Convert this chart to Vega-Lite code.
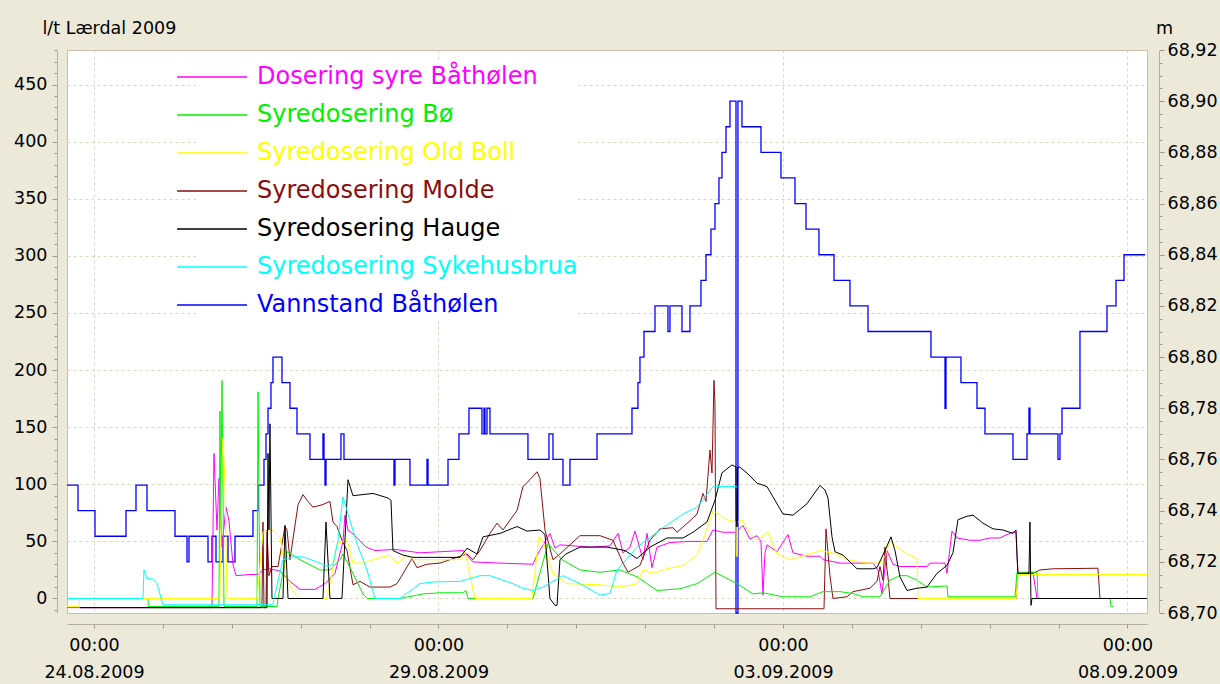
{
"$schema": "https://vega.github.io/schema/vega-lite/v6.json",
"width": 1080, "height": 563,
"autosize": {"type": "none"},
"padding": {"left": 67, "top": 50, "right": 73, "bottom": 71},
"background": "#ECE9D8",
"config": {
  "view": {"fill": "#FFFFFF", "stroke": "#C4C0AC"},
  "axis": {"labelFont": "DejaVu Sans", "labelFontSize": 17.5, "labelColor": "#000000", "titleFont": "DejaVu Sans", "titleFontSize": 17.5, "titleFontWeight": "normal", "titleColor": "#000000", "domainColor": "#B4B0A0", "tickColor": "#9C9888", "gridColor": "#DCD8C2", "gridDash": [3, 3]}
},
"datasets": {
"level": [
{"s":"Vannstand Båthølen","t":"2009-08-23T14:36","m":68.75},
{"s":"Vannstand Båthølen","t":"2009-08-23T18:26","m":68.74},
{"s":"Vannstand Båthølen","t":"2009-08-24T00:21","m":68.73},
{"s":"Vannstand Båthølen","t":"2009-08-24T11:09","m":68.74},
{"s":"Vannstand Båthølen","t":"2009-08-24T14:38","m":68.75},
{"s":"Vannstand Båthølen","t":"2009-08-24T18:28","m":68.74},
{"s":"Vannstand Båthølen","t":"2009-08-25T04:13","m":68.73},
{"s":"Vannstand Båthølen","t":"2009-08-25T08:24","m":68.72},
{"s":"Vannstand Båthølen","t":"2009-08-25T09:05","m":68.73},
{"s":"Vannstand Båthølen","t":"2009-08-25T15:43","m":68.72},
{"s":"Vannstand Båthølen","t":"2009-08-25T17:06","m":68.73},
{"s":"Vannstand Båthølen","t":"2009-08-25T18:30","m":68.72},
{"s":"Vannstand Båthølen","t":"2009-08-25T20:56","m":68.73},
{"s":"Vannstand Båthølen","t":"2009-08-25T22:41","m":68.72},
{"s":"Vannstand Båthølen","t":"2009-08-26T01:07","m":68.73},
{"s":"Vannstand Båthølen","t":"2009-08-26T07:23","m":68.74},
{"s":"Vannstand Båthølen","t":"2009-08-26T09:08","m":68.75},
{"s":"Vannstand Båthølen","t":"2009-08-26T11:13","m":68.76},
{"s":"Vannstand Båthølen","t":"2009-08-26T11:55","m":68.77},
{"s":"Vannstand Båthølen","t":"2009-08-26T12:37","m":68.78},
{"s":"Vannstand Båthølen","t":"2009-08-26T13:39","m":68.79},
{"s":"Vannstand Båthølen","t":"2009-08-26T14:21","m":68.80},
{"s":"Vannstand Båthølen","t":"2009-08-26T17:29","m":68.79},
{"s":"Vannstand Båthølen","t":"2009-08-26T20:16","m":68.78},
{"s":"Vannstand Båthølen","t":"2009-08-26T22:43","m":68.77},
{"s":"Vannstand Båthølen","t":"2009-08-27T03:14","m":68.76},
{"s":"Vannstand Båthølen","t":"2009-08-27T07:46","m":68.77},
{"s":"Vannstand Båthølen","t":"2009-08-27T08:07","m":68.76},
{"s":"Vannstand Båthølen","t":"2009-08-27T08:28","m":68.75},
{"s":"Vannstand Båthølen","t":"2009-08-27T08:49","m":68.76},
{"s":"Vannstand Båthølen","t":"2009-08-27T14:02","m":68.77},
{"s":"Vannstand Båthølen","t":"2009-08-27T15:05","m":68.76},
{"s":"Vannstand Båthølen","t":"2009-08-28T08:30","m":68.75},
{"s":"Vannstand Båthølen","t":"2009-08-28T08:51","m":68.76},
{"s":"Vannstand Båthølen","t":"2009-08-28T14:04","m":68.75},
{"s":"Vannstand Båthølen","t":"2009-08-28T20:00","m":68.76},
{"s":"Vannstand Båthølen","t":"2009-08-28T20:21","m":68.75},
{"s":"Vannstand Båthølen","t":"2009-08-29T03:19","m":68.76},
{"s":"Vannstand Båthølen","t":"2009-08-29T07:08","m":68.77},
{"s":"Vannstand Båthølen","t":"2009-08-29T10:37","m":68.78},
{"s":"Vannstand Båthølen","t":"2009-08-29T15:09","m":68.77},
{"s":"Vannstand Båthølen","t":"2009-08-29T15:51","m":68.78},
{"s":"Vannstand Båthølen","t":"2009-08-29T16:12","m":68.77},
{"s":"Vannstand Båthølen","t":"2009-08-29T16:54","m":68.78},
{"s":"Vannstand Båthølen","t":"2009-08-29T17:56","m":68.77},
{"s":"Vannstand Båthølen","t":"2009-08-30T07:10","m":68.76},
{"s":"Vannstand Båthølen","t":"2009-08-30T14:29","m":68.77},
{"s":"Vannstand Båthølen","t":"2009-08-30T15:53","m":68.76},
{"s":"Vannstand Båthølen","t":"2009-08-30T19:22","m":68.75},
{"s":"Vannstand Båthølen","t":"2009-08-30T21:48","m":68.76},
{"s":"Vannstand Båthølen","t":"2009-08-31T07:13","m":68.77},
{"s":"Vannstand Båthølen","t":"2009-08-31T19:24","m":68.78},
{"s":"Vannstand Båthølen","t":"2009-08-31T21:29","m":68.79},
{"s":"Vannstand Båthølen","t":"2009-08-31T22:11","m":68.80},
{"s":"Vannstand Båthølen","t":"2009-08-31T23:35","m":68.81},
{"s":"Vannstand Båthølen","t":"2009-09-01T03:25","m":68.82},
{"s":"Vannstand Båthølen","t":"2009-09-01T07:56","m":68.81},
{"s":"Vannstand Båthølen","t":"2009-09-01T08:38","m":68.82},
{"s":"Vannstand Båthølen","t":"2009-09-01T12:49","m":68.81},
{"s":"Vannstand Båthølen","t":"2009-09-01T15:36","m":68.82},
{"s":"Vannstand Båthølen","t":"2009-09-01T19:26","m":68.83},
{"s":"Vannstand Båthølen","t":"2009-09-01T21:11","m":68.84},
{"s":"Vannstand Båthølen","t":"2009-09-01T22:55","m":68.85},
{"s":"Vannstand Båthølen","t":"2009-09-02T00:19","m":68.86},
{"s":"Vannstand Båthølen","t":"2009-09-02T01:42","m":68.87},
{"s":"Vannstand Båthølen","t":"2009-09-02T02:45","m":68.88},
{"s":"Vannstand Båthølen","t":"2009-09-02T04:09","m":68.89},
{"s":"Vannstand Båthølen","t":"2009-09-02T05:32","m":68.90},
{"s":"Vannstand Båthølen","t":"2009-09-02T07:38","m":68.70},
{"s":"Vannstand Båthølen","t":"2009-09-02T08:19","m":68.90},
{"s":"Vannstand Båthølen","t":"2009-09-02T09:43","m":68.89},
{"s":"Vannstand Båthølen","t":"2009-09-02T16:20","m":68.88},
{"s":"Vannstand Båthølen","t":"2009-09-02T23:18","m":68.87},
{"s":"Vannstand Båthølen","t":"2009-09-03T04:11","m":68.86},
{"s":"Vannstand Båthølen","t":"2009-09-03T08:01","m":68.85},
{"s":"Vannstand Båthølen","t":"2009-09-03T12:32","m":68.84},
{"s":"Vannstand Båthølen","t":"2009-09-03T17:46","m":68.83},
{"s":"Vannstand Båthølen","t":"2009-09-03T23:20","m":68.82},
{"s":"Vannstand Båthølen","t":"2009-09-04T05:37","m":68.81},
{"s":"Vannstand Båthølen","t":"2009-09-05T03:33","m":68.80},
{"s":"Vannstand Båthølen","t":"2009-09-05T08:26","m":68.78},
{"s":"Vannstand Båthølen","t":"2009-09-05T08:47","m":68.80},
{"s":"Vannstand Båthølen","t":"2009-09-05T14:00","m":68.79},
{"s":"Vannstand Båthølen","t":"2009-09-05T19:35","m":68.78},
{"s":"Vannstand Båthølen","t":"2009-09-05T22:22","m":68.77},
{"s":"Vannstand Båthølen","t":"2009-09-06T08:07","m":68.76},
{"s":"Vannstand Båthølen","t":"2009-09-06T13:00","m":68.77},
{"s":"Vannstand Båthølen","t":"2009-09-06T13:41","m":68.78},
{"s":"Vannstand Båthølen","t":"2009-09-06T14:02","m":68.77},
{"s":"Vannstand Båthølen","t":"2009-09-06T23:47","m":68.76},
{"s":"Vannstand Båthølen","t":"2009-09-07T00:29","m":68.77},
{"s":"Vannstand Båthølen","t":"2009-09-07T01:11","m":68.78},
{"s":"Vannstand Båthølen","t":"2009-09-07T07:27","m":68.81},
{"s":"Vannstand Båthølen","t":"2009-09-07T16:52","m":68.82},
{"s":"Vannstand Båthølen","t":"2009-09-07T20:00","m":68.83},
{"s":"Vannstand Båthølen","t":"2009-09-07T22:47","m":68.84},
{"s":"Vannstand Båthølen","t":"2009-09-08T06:06","m":68.84}
],
"dose": [
{"s":"Dosering syre Båthølen","t":"2009-08-23T14:36","v":-8},
{"s":"Dosering syre Båthølen","t":"2009-08-25T17:06","v":-8},
{"s":"Dosering syre Båthølen","t":"2009-08-25T17:48","v":127},
{"s":"Dosering syre Båthølen","t":"2009-08-25T18:51","v":60},
{"s":"Dosering syre Båthølen","t":"2009-08-25T19:32","v":105},
{"s":"Dosering syre Båthølen","t":"2009-08-25T20:35","v":45},
{"s":"Dosering syre Båthølen","t":"2009-08-25T21:59","v":80},
{"s":"Dosering syre Båthølen","t":"2009-08-25T23:01","v":68},
{"s":"Dosering syre Båthølen","t":"2009-08-26T00:25","v":30},
{"s":"Dosering syre Båthølen","t":"2009-08-26T01:28","v":20},
{"s":"Dosering syre Båthølen","t":"2009-08-26T06:20","v":21},
{"s":"Dosering syre Båthølen","t":"2009-08-26T09:08","v":21},
{"s":"Dosering syre Båthølen","t":"2009-08-26T10:52","v":25},
{"s":"Dosering syre Båthølen","t":"2009-08-26T13:18","v":26},
{"s":"Dosering syre Båthølen","t":"2009-08-26T16:47","v":24},
{"s":"Dosering syre Båthølen","t":"2009-08-26T20:16","v":15},
{"s":"Dosering syre Båthølen","t":"2009-08-26T23:45","v":8},
{"s":"Dosering syre Båthølen","t":"2009-08-27T04:59","v":8},
{"s":"Dosering syre Båthølen","t":"2009-08-27T08:28","v":13},
{"s":"Dosering syre Båthølen","t":"2009-08-27T11:57","v":22},
{"s":"Dosering syre Båthølen","t":"2009-08-27T14:44","v":50},
{"s":"Dosering syre Båthølen","t":"2009-08-27T15:26","v":73},
{"s":"Dosering syre Båthølen","t":"2009-08-27T16:29","v":60},
{"s":"Dosering syre Båthølen","t":"2009-08-27T18:55","v":55},
{"s":"Dosering syre Båthølen","t":"2009-08-27T22:45","v":45},
{"s":"Dosering syre Båthølen","t":"2009-08-28T01:53","v":42},
{"s":"Dosering syre Båthølen","t":"2009-08-28T08:51","v":43},
{"s":"Dosering syre Båthølen","t":"2009-08-28T17:33","v":40},
{"s":"Dosering syre Båthølen","t":"2009-08-29T08:32","v":42},
{"s":"Dosering syre Båthølen","t":"2009-08-29T12:01","v":32},
{"s":"Dosering syre Båthølen","t":"2009-08-29T21:25","v":31},
{"s":"Dosering syre Båthølen","t":"2009-08-30T08:55","v":30},
{"s":"Dosering syre Båthølen","t":"2009-08-30T10:19","v":38},
{"s":"Dosering syre Båthølen","t":"2009-08-30T14:50","v":57},
{"s":"Dosering syre Båthølen","t":"2009-08-30T16:35","v":44},
{"s":"Dosering syre Båthølen","t":"2009-08-30T18:19","v":47},
{"s":"Dosering syre Båthølen","t":"2009-08-31T04:46","v":45},
{"s":"Dosering syre Båthølen","t":"2009-08-31T11:44","v":46},
{"s":"Dosering syre Båthølen","t":"2009-08-31T14:32","v":57},
{"s":"Dosering syre Båthølen","t":"2009-08-31T16:16","v":40},
{"s":"Dosering syre Båthølen","t":"2009-08-31T18:42","v":45},
{"s":"Dosering syre Båthølen","t":"2009-08-31T20:27","v":59},
{"s":"Dosering syre Båthølen","t":"2009-08-31T23:14","v":34},
{"s":"Dosering syre Båthølen","t":"2009-09-01T00:38","v":57},
{"s":"Dosering syre Båthølen","t":"2009-09-01T02:22","v":27},
{"s":"Dosering syre Båthølen","t":"2009-09-01T04:07","v":45},
{"s":"Dosering syre Båthølen","t":"2009-09-01T08:38","v":49},
{"s":"Dosering syre Båthølen","t":"2009-09-01T15:36","v":50},
{"s":"Dosering syre Båthølen","t":"2009-09-01T21:32","v":50},
{"s":"Dosering syre Båthølen","t":"2009-09-01T23:37","v":60},
{"s":"Dosering syre Båthølen","t":"2009-09-02T03:06","v":58},
{"s":"Dosering syre Båthølen","t":"2009-09-02T07:38","v":58},
{"s":"Dosering syre Båthølen","t":"2009-09-02T10:04","v":64},
{"s":"Dosering syre Båthølen","t":"2009-09-02T12:30","v":52},
{"s":"Dosering syre Båthølen","t":"2009-09-02T14:57","v":55},
{"s":"Dosering syre Båthølen","t":"2009-09-02T16:20","v":50},
{"s":"Dosering syre Båthølen","t":"2009-09-02T17:02","v":3},
{"s":"Dosering syre Båthølen","t":"2009-09-02T17:44","v":40},
{"s":"Dosering syre Båthølen","t":"2009-09-02T18:26","v":47},
{"s":"Dosering syre Båthølen","t":"2009-09-02T21:55","v":41},
{"s":"Dosering syre Båthølen","t":"2009-09-03T01:45","v":56},
{"s":"Dosering syre Båthølen","t":"2009-09-03T03:29","v":40},
{"s":"Dosering syre Båthølen","t":"2009-09-03T08:22","v":37},
{"s":"Dosering syre Båthølen","t":"2009-09-03T12:53","v":37},
{"s":"Dosering syre Båthølen","t":"2009-09-03T13:56","v":34},
{"s":"Dosering syre Båthølen","t":"2009-09-03T19:51","v":31},
{"s":"Dosering syre Båthølen","t":"2009-09-04T07:21","v":31},
{"s":"Dosering syre Båthølen","t":"2009-09-04T09:05","v":25},
{"s":"Dosering syre Båthølen","t":"2009-09-04T10:29","v":4},
{"s":"Dosering syre Båthølen","t":"2009-09-04T12:14","v":42},
{"s":"Dosering syre Båthølen","t":"2009-09-04T14:19","v":30},
{"s":"Dosering syre Båthølen","t":"2009-09-04T16:45","v":28},
{"s":"Dosering syre Båthølen","t":"2009-09-05T02:10","v":28},
{"s":"Dosering syre Båthølen","t":"2009-09-05T03:12","v":31},
{"s":"Dosering syre Båthølen","t":"2009-09-05T08:26","v":31},
{"s":"Dosering syre Båthølen","t":"2009-09-05T09:08","v":22},
{"s":"Dosering syre Båthølen","t":"2009-09-05T10:52","v":59},
{"s":"Dosering syre Båthølen","t":"2009-09-05T12:37","v":53},
{"s":"Dosering syre Båthølen","t":"2009-09-05T17:08","v":51},
{"s":"Dosering syre Båthølen","t":"2009-09-05T20:37","v":51},
{"s":"Dosering syre Båthølen","t":"2009-09-06T00:06","v":53},
{"s":"Dosering syre Båthølen","t":"2009-09-06T03:35","v":53},
{"s":"Dosering syre Båthølen","t":"2009-09-06T06:02","v":56},
{"s":"Dosering syre Båthølen","t":"2009-09-06T08:07","v":58},
{"s":"Dosering syre Båthølen","t":"2009-09-06T09:10","v":58},
{"s":"Dosering syre Båthølen","t":"2009-09-06T09:51","v":22},
{"s":"Dosering syre Båthølen","t":"2009-09-06T15:05","v":23},
{"s":"Dosering syre Båthølen","t":"2009-09-06T16:29","v":0},
{"s":"Dosering syre Båthølen","t":"2009-09-06T17:31","v":0},
{"s":"Syredosering Molde","t":"2009-08-23T19:07","v":-8},
{"s":"Syredosering Molde","t":"2009-08-26T10:31","v":-8},
{"s":"Syredosering Molde","t":"2009-08-26T10:52","v":67},
{"s":"Syredosering Molde","t":"2009-08-26T11:13","v":-8},
{"s":"Syredosering Molde","t":"2009-08-26T11:55","v":-8},
{"s":"Syredosering Molde","t":"2009-08-26T12:16","v":60},
{"s":"Syredosering Molde","t":"2009-08-26T12:57","v":20},
{"s":"Syredosering Molde","t":"2009-08-26T14:00","v":28},
{"s":"Syredosering Molde","t":"2009-08-26T16:06","v":28},
{"s":"Syredosering Molde","t":"2009-08-26T18:32","v":63},
{"s":"Syredosering Molde","t":"2009-08-26T19:14","v":60},
{"s":"Syredosering Molde","t":"2009-08-26T20:16","v":34},
{"s":"Syredosering Molde","t":"2009-08-26T23:04","v":82},
{"s":"Syredosering Molde","t":"2009-08-27T00:48","v":91},
{"s":"Syredosering Molde","t":"2009-08-27T02:12","v":86},
{"s":"Syredosering Molde","t":"2009-08-27T04:17","v":80},
{"s":"Syredosering Molde","t":"2009-08-27T07:25","v":82},
{"s":"Syredosering Molde","t":"2009-08-27T10:12","v":85},
{"s":"Syredosering Molde","t":"2009-08-27T11:15","v":67},
{"s":"Syredosering Molde","t":"2009-08-27T12:39","v":63},
{"s":"Syredosering Molde","t":"2009-08-27T14:23","v":51},
{"s":"Syredosering Molde","t":"2009-08-27T16:08","v":42},
{"s":"Syredosering Molde","t":"2009-08-27T18:13","v":12},
{"s":"Syredosering Molde","t":"2009-08-27T20:39","v":15},
{"s":"Syredosering Molde","t":"2009-08-28T00:08","v":10},
{"s":"Syredosering Molde","t":"2009-08-28T07:06","v":10},
{"s":"Syredosering Molde","t":"2009-08-28T09:33","v":13},
{"s":"Syredosering Molde","t":"2009-08-28T14:46","v":35},
{"s":"Syredosering Molde","t":"2009-08-28T16:31","v":27},
{"s":"Syredosering Molde","t":"2009-08-28T20:00","v":30},
{"s":"Syredosering Molde","t":"2009-08-29T00:31","v":31},
{"s":"Syredosering Molde","t":"2009-08-29T04:00","v":34},
{"s":"Syredosering Molde","t":"2009-08-29T09:56","v":39},
{"s":"Syredosering Molde","t":"2009-08-29T12:01","v":34},
{"s":"Syredosering Molde","t":"2009-08-29T14:27","v":42},
{"s":"Syredosering Molde","t":"2009-08-29T17:56","v":57},
{"s":"Syredosering Molde","t":"2009-08-29T20:23","v":66},
{"s":"Syredosering Molde","t":"2009-08-29T22:28","v":60},
{"s":"Syredosering Molde","t":"2009-08-30T03:21","v":77},
{"s":"Syredosering Molde","t":"2009-08-30T05:26","v":98},
{"s":"Syredosering Molde","t":"2009-08-30T07:52","v":104},
{"s":"Syredosering Molde","t":"2009-08-30T10:19","v":111},
{"s":"Syredosering Molde","t":"2009-08-30T11:21","v":105},
{"s":"Syredosering Molde","t":"2009-08-30T13:06","v":60},
{"s":"Syredosering Molde","t":"2009-08-30T15:53","v":34},
{"s":"Syredosering Molde","t":"2009-08-30T18:19","v":39},
{"s":"Syredosering Molde","t":"2009-08-31T01:17","v":55},
{"s":"Syredosering Molde","t":"2009-08-31T08:15","v":55},
{"s":"Syredosering Molde","t":"2009-08-31T12:47","v":51},
{"s":"Syredosering Molde","t":"2009-08-31T16:16","v":31},
{"s":"Syredosering Molde","t":"2009-08-31T18:01","v":23},
{"s":"Syredosering Molde","t":"2009-08-31T22:11","v":29},
{"s":"Syredosering Molde","t":"2009-09-01T01:40","v":51},
{"s":"Syredosering Molde","t":"2009-09-01T05:09","v":61},
{"s":"Syredosering Molde","t":"2009-09-01T09:41","v":62},
{"s":"Syredosering Molde","t":"2009-09-01T11:05","v":58},
{"s":"Syredosering Molde","t":"2009-09-01T15:36","v":68},
{"s":"Syredosering Molde","t":"2009-09-01T18:03","v":74},
{"s":"Syredosering Molde","t":"2009-09-01T20:08","v":92},
{"s":"Syredosering Molde","t":"2009-09-01T21:11","v":85},
{"s":"Syredosering Molde","t":"2009-09-01T22:34","v":130},
{"s":"Syredosering Molde","t":"2009-09-01T23:16","v":110},
{"s":"Syredosering Molde","t":"2009-09-01T23:58","v":191},
{"s":"Syredosering Molde","t":"2009-09-02T00:19","v":170},
{"s":"Syredosering Molde","t":"2009-09-02T00:40","v":-9},
{"s":"Syredosering Molde","t":"2009-09-03T14:17","v":-9},
{"s":"Syredosering Molde","t":"2009-09-03T14:59","v":61},
{"s":"Syredosering Molde","t":"2009-09-03T16:22","v":20},
{"s":"Syredosering Molde","t":"2009-09-03T17:25","v":0},
{"s":"Syredosering Molde","t":"2009-09-03T22:18","v":1.5},
{"s":"Syredosering Molde","t":"2009-09-04T00:23","v":6},
{"s":"Syredosering Molde","t":"2009-09-04T06:18","v":9},
{"s":"Syredosering Molde","t":"2009-09-04T08:45","v":15},
{"s":"Syredosering Molde","t":"2009-09-04T09:47","v":28},
{"s":"Syredosering Molde","t":"2009-09-04T10:50","v":16},
{"s":"Syredosering Molde","t":"2009-09-04T11:32","v":45},
{"s":"Syredosering Molde","t":"2009-09-04T12:14","v":25},
{"s":"Syredosering Molde","t":"2009-09-04T12:34","v":19},
{"s":"Syredosering Molde","t":"2009-09-04T13:16","v":0},
{"s":"Syredosering Molde","t":"2009-09-06T09:10","v":0},
{"s":"Syredosering Molde","t":"2009-09-06T09:51","v":22},
{"s":"Syredosering Molde","t":"2009-09-06T15:05","v":22},
{"s":"Syredosering Molde","t":"2009-09-06T17:31","v":25},
{"s":"Syredosering Molde","t":"2009-09-06T22:03","v":26},
{"s":"Syredosering Molde","t":"2009-09-07T13:43","v":26.5},
{"s":"Syredosering Molde","t":"2009-09-07T14:25","v":0},
{"s":"Syredosering Molde","t":"2009-09-07T17:54","v":0},
{"s":"Syredosering Bø","t":"2009-08-23T14:36","v":0},
{"s":"Syredosering Bø","t":"2009-08-24T18:49","v":0},
{"s":"Syredosering Bø","t":"2009-08-24T18:55","v":-7},
{"s":"Syredosering Bø","t":"2009-08-25T19:32","v":-7},
{"s":"Syredosering Bø","t":"2009-08-25T19:53","v":164},
{"s":"Syredosering Bø","t":"2009-08-25T20:14","v":60},
{"s":"Syredosering Bø","t":"2009-08-25T20:35","v":191},
{"s":"Syredosering Bø","t":"2009-08-25T21:17","v":-7},
{"s":"Syredosering Bø","t":"2009-08-26T08:47","v":-7},
{"s":"Syredosering Bø","t":"2009-08-26T09:08","v":181},
{"s":"Syredosering Bø","t":"2009-08-26T09:49","v":-7},
{"s":"Syredosering Bø","t":"2009-08-26T15:45","v":-7},
{"s":"Syredosering Bø","t":"2009-08-26T16:06","v":0},
{"s":"Syredosering Bø","t":"2009-08-26T19:14","v":41},
{"s":"Syredosering Bø","t":"2009-08-26T23:45","v":34},
{"s":"Syredosering Bø","t":"2009-08-27T06:43","v":25},
{"s":"Syredosering Bø","t":"2009-08-27T10:12","v":25},
{"s":"Syredosering Bø","t":"2009-08-27T13:41","v":34},
{"s":"Syredosering Bø","t":"2009-08-27T14:44","v":39},
{"s":"Syredosering Bø","t":"2009-08-27T18:13","v":22},
{"s":"Syredosering Bø","t":"2009-08-27T21:42","v":4},
{"s":"Syredosering Bø","t":"2009-08-27T23:06","v":0},
{"s":"Syredosering Bø","t":"2009-08-28T10:35","v":0},
{"s":"Syredosering Bø","t":"2009-08-28T18:36","v":4},
{"s":"Syredosering Bø","t":"2009-08-29T00:31","v":5},
{"s":"Syredosering Bø","t":"2009-08-29T08:32","v":5},
{"s":"Syredosering Bø","t":"2009-08-29T09:35","v":7},
{"s":"Syredosering Bø","t":"2009-08-29T10:17","v":0},
{"s":"Syredosering Bø","t":"2009-08-30T08:55","v":0},
{"s":"Syredosering Bø","t":"2009-08-30T14:09","v":48},
{"s":"Syredosering Bø","t":"2009-08-30T19:01","v":34},
{"s":"Syredosering Bø","t":"2009-08-31T01:17","v":25},
{"s":"Syredosering Bø","t":"2009-08-31T08:15","v":23},
{"s":"Syredosering Bø","t":"2009-08-31T15:13","v":25},
{"s":"Syredosering Bø","t":"2009-08-31T21:09","v":19},
{"s":"Syredosering Bø","t":"2009-09-01T04:07","v":7},
{"s":"Syredosering Bø","t":"2009-09-01T12:07","v":8.5},
{"s":"Syredosering Bø","t":"2009-09-01T18:03","v":13},
{"s":"Syredosering Bø","t":"2009-09-02T00:19","v":23},
{"s":"Syredosering Bø","t":"2009-09-02T07:59","v":13},
{"s":"Syredosering Bø","t":"2009-09-02T13:33","v":4},
{"s":"Syredosering Bø","t":"2009-09-02T17:02","v":5},
{"s":"Syredosering Bø","t":"2009-09-03T00:00","v":1.5},
{"s":"Syredosering Bø","t":"2009-09-03T09:24","v":1.5},
{"s":"Syredosering Bø","t":"2009-09-03T13:56","v":6},
{"s":"Syredosering Bø","t":"2009-09-03T19:51","v":6},
{"s":"Syredosering Bø","t":"2009-09-04T00:23","v":4.4},
{"s":"Syredosering Bø","t":"2009-09-04T03:52","v":1.5},
{"s":"Syredosering Bø","t":"2009-09-04T09:47","v":1.5},
{"s":"Syredosering Bø","t":"2009-09-04T13:16","v":16},
{"s":"Syredosering Bø","t":"2009-09-04T16:45","v":20},
{"s":"Syredosering Bø","t":"2009-09-04T19:12","v":20},
{"s":"Syredosering Bø","t":"2009-09-04T22:41","v":16},
{"s":"Syredosering Bø","t":"2009-09-05T02:10","v":10},
{"s":"Syredosering Bø","t":"2009-09-05T09:08","v":11},
{"s":"Syredosering Bø","t":"2009-09-05T09:28","v":1.5},
{"s":"Syredosering Bø","t":"2009-09-06T08:49","v":1.5},
{"s":"Syredosering Bø","t":"2009-09-06T09:31","v":23},
{"s":"Syredosering Bø","t":"2009-09-06T16:29","v":23},
{"s":"Syredosering Bø","t":"2009-09-06T16:49","v":0},
{"s":"Syredosering Bø","t":"2009-09-07T17:54","v":0},
{"s":"Syredosering Bø","t":"2009-09-07T18:15","v":-7},
{"s":"Syredosering Bø","t":"2009-09-07T18:57","v":-7},
{"s":"Syredosering Old Boll","t":"2009-08-23T14:36","v":-7},
{"s":"Syredosering Old Boll","t":"2009-08-23T18:47","v":-7},
{"s":"Syredosering Old Boll","t":"2009-08-23T19:07","v":0},
{"s":"Syredosering Old Boll","t":"2009-08-25T19:53","v":0},
{"s":"Syredosering Old Boll","t":"2009-08-25T20:35","v":120},
{"s":"Syredosering Old Boll","t":"2009-08-25T20:56","v":141},
{"s":"Syredosering Old Boll","t":"2009-08-25T21:38","v":100},
{"s":"Syredosering Old Boll","t":"2009-08-25T22:20","v":0},
{"s":"Syredosering Old Boll","t":"2009-08-26T08:47","v":0},
{"s":"Syredosering Old Boll","t":"2009-08-26T10:52","v":58},
{"s":"Syredosering Old Boll","t":"2009-08-26T14:21","v":60},
{"s":"Syredosering Old Boll","t":"2009-08-26T16:47","v":54},
{"s":"Syredosering Old Boll","t":"2009-08-26T19:14","v":16},
{"s":"Syredosering Old Boll","t":"2009-08-26T22:01","v":4},
{"s":"Syredosering Old Boll","t":"2009-08-26T23:45","v":0},
{"s":"Syredosering Old Boll","t":"2009-08-27T09:10","v":0},
{"s":"Syredosering Old Boll","t":"2009-08-27T10:54","v":22},
{"s":"Syredosering Old Boll","t":"2009-08-27T12:39","v":48},
{"s":"Syredosering Old Boll","t":"2009-08-27T16:08","v":51},
{"s":"Syredosering Old Boll","t":"2009-08-27T18:13","v":31},
{"s":"Syredosering Old Boll","t":"2009-08-27T21:42","v":31},
{"s":"Syredosering Old Boll","t":"2009-08-28T03:37","v":36},
{"s":"Syredosering Old Boll","t":"2009-08-28T07:06","v":38},
{"s":"Syredosering Old Boll","t":"2009-08-28T09:33","v":31},
{"s":"Syredosering Old Boll","t":"2009-08-28T13:02","v":38},
{"s":"Syredosering Old Boll","t":"2009-08-28T15:07","v":34},
{"s":"Syredosering Old Boll","t":"2009-08-29T07:29","v":34},
{"s":"Syredosering Old Boll","t":"2009-08-29T09:14","v":41},
{"s":"Syredosering Old Boll","t":"2009-08-29T12:43","v":0},
{"s":"Syredosering Old Boll","t":"2009-08-30T08:34","v":0},
{"s":"Syredosering Old Boll","t":"2009-08-30T11:00","v":54},
{"s":"Syredosering Old Boll","t":"2009-08-30T12:24","v":50},
{"s":"Syredosering Old Boll","t":"2009-08-30T15:53","v":22},
{"s":"Syredosering Old Boll","t":"2009-08-30T20:46","v":13},
{"s":"Syredosering Old Boll","t":"2009-08-31T08:15","v":12},
{"s":"Syredosering Old Boll","t":"2009-08-31T15:13","v":10},
{"s":"Syredosering Old Boll","t":"2009-08-31T21:09","v":13},
{"s":"Syredosering Old Boll","t":"2009-08-31T23:14","v":25},
{"s":"Syredosering Old Boll","t":"2009-09-01T02:43","v":22},
{"s":"Syredosering Old Boll","t":"2009-09-01T07:36","v":26},
{"s":"Syredosering Old Boll","t":"2009-09-01T13:10","v":29},
{"s":"Syredosering Old Boll","t":"2009-09-01T18:03","v":38},
{"s":"Syredosering Old Boll","t":"2009-09-01T20:08","v":51},
{"s":"Syredosering Old Boll","t":"2009-09-01T23:37","v":77},
{"s":"Syredosering Old Boll","t":"2009-09-02T04:30","v":69},
{"s":"Syredosering Old Boll","t":"2009-09-02T07:38","v":67},
{"s":"Syredosering Old Boll","t":"2009-09-02T07:45","v":37},
{"s":"Syredosering Old Boll","t":"2009-09-02T08:05","v":37},
{"s":"Syredosering Old Boll","t":"2009-09-02T08:12","v":67},
{"s":"Syredosering Old Boll","t":"2009-09-02T09:43","v":69},
{"s":"Syredosering Old Boll","t":"2009-09-02T12:30","v":57},
{"s":"Syredosering Old Boll","t":"2009-09-02T14:57","v":51},
{"s":"Syredosering Old Boll","t":"2009-09-02T18:47","v":58},
{"s":"Syredosering Old Boll","t":"2009-09-02T21:55","v":39},
{"s":"Syredosering Old Boll","t":"2009-09-03T02:26","v":34},
{"s":"Syredosering Old Boll","t":"2009-09-03T09:24","v":39},
{"s":"Syredosering Old Boll","t":"2009-09-03T12:53","v":42},
{"s":"Syredosering Old Boll","t":"2009-09-03T18:49","v":39},
{"s":"Syredosering Old Boll","t":"2009-09-03T22:18","v":34},
{"s":"Syredosering Old Boll","t":"2009-09-04T05:16","v":31},
{"s":"Syredosering Old Boll","t":"2009-09-04T09:47","v":31},
{"s":"Syredosering Old Boll","t":"2009-09-04T11:32","v":37},
{"s":"Syredosering Old Boll","t":"2009-09-04T13:16","v":50},
{"s":"Syredosering Old Boll","t":"2009-09-04T15:43","v":45},
{"s":"Syredosering Old Boll","t":"2009-09-04T19:12","v":39},
{"s":"Syredosering Old Boll","t":"2009-09-04T22:41","v":35},
{"s":"Syredosering Old Boll","t":"2009-09-04T23:01","v":0},
{"s":"Syredosering Old Boll","t":"2009-09-06T09:10","v":0},
{"s":"Syredosering Old Boll","t":"2009-09-06T09:51","v":21},
{"s":"Syredosering Old Boll","t":"2009-09-08T06:48","v":21},
{"s":"Syredosering Hauge","t":"2009-08-23T19:07","v":-8},
{"s":"Syredosering Hauge","t":"2009-08-26T12:16","v":-8},
{"s":"Syredosering Hauge","t":"2009-08-26T12:37","v":127},
{"s":"Syredosering Hauge","t":"2009-08-26T12:57","v":60},
{"s":"Syredosering Hauge","t":"2009-08-26T13:18","v":153},
{"s":"Syredosering Hauge","t":"2009-08-26T14:00","v":0},
{"s":"Syredosering Hauge","t":"2009-08-26T17:50","v":0},
{"s":"Syredosering Hauge","t":"2009-08-26T18:32","v":64},
{"s":"Syredosering Hauge","t":"2009-08-26T19:35","v":0},
{"s":"Syredosering Hauge","t":"2009-08-27T07:46","v":0},
{"s":"Syredosering Hauge","t":"2009-08-27T08:49","v":67},
{"s":"Syredosering Hauge","t":"2009-08-27T10:12","v":0},
{"s":"Syredosering Hauge","t":"2009-08-27T14:23","v":0},
{"s":"Syredosering Hauge","t":"2009-08-27T16:29","v":104},
{"s":"Syredosering Hauge","t":"2009-08-27T18:13","v":90},
{"s":"Syredosering Hauge","t":"2009-08-28T01:11","v":92},
{"s":"Syredosering Hauge","t":"2009-08-28T06:25","v":88},
{"s":"Syredosering Hauge","t":"2009-08-28T07:27","v":86},
{"s":"Syredosering Hauge","t":"2009-08-28T08:09","v":42},
{"s":"Syredosering Hauge","t":"2009-08-28T11:38","v":38},
{"s":"Syredosering Hauge","t":"2009-08-28T15:07","v":36},
{"s":"Syredosering Hauge","t":"2009-08-29T07:29","v":36},
{"s":"Syredosering Hauge","t":"2009-08-29T09:56","v":44},
{"s":"Syredosering Hauge","t":"2009-08-29T13:25","v":39},
{"s":"Syredosering Hauge","t":"2009-08-29T15:30","v":54},
{"s":"Syredosering Hauge","t":"2009-08-29T21:25","v":57},
{"s":"Syredosering Hauge","t":"2009-08-30T03:21","v":63},
{"s":"Syredosering Hauge","t":"2009-08-30T06:50","v":59},
{"s":"Syredosering Hauge","t":"2009-08-30T11:21","v":60},
{"s":"Syredosering Hauge","t":"2009-08-30T13:06","v":56},
{"s":"Syredosering Hauge","t":"2009-08-30T14:50","v":0},
{"s":"Syredosering Hauge","t":"2009-08-30T16:35","v":-6},
{"s":"Syredosering Hauge","t":"2009-08-30T17:17","v":-6},
{"s":"Syredosering Hauge","t":"2009-08-30T18:19","v":34},
{"s":"Syredosering Hauge","t":"2009-08-30T20:25","v":39},
{"s":"Syredosering Hauge","t":"2009-08-31T01:17","v":45},
{"s":"Syredosering Hauge","t":"2009-08-31T10:42","v":45},
{"s":"Syredosering Hauge","t":"2009-08-31T16:58","v":42},
{"s":"Syredosering Hauge","t":"2009-08-31T21:09","v":35},
{"s":"Syredosering Hauge","t":"2009-09-01T01:40","v":45},
{"s":"Syredosering Hauge","t":"2009-09-01T07:36","v":53},
{"s":"Syredosering Hauge","t":"2009-09-01T13:10","v":53},
{"s":"Syredosering Hauge","t":"2009-09-01T16:39","v":58},
{"s":"Syredosering Hauge","t":"2009-09-01T21:32","v":67},
{"s":"Syredosering Hauge","t":"2009-09-02T00:19","v":86},
{"s":"Syredosering Hauge","t":"2009-09-02T02:45","v":110},
{"s":"Syredosering Hauge","t":"2009-09-02T06:14","v":117},
{"s":"Syredosering Hauge","t":"2009-09-02T07:38","v":115},
{"s":"Syredosering Hauge","t":"2009-09-02T07:45","v":63},
{"s":"Syredosering Hauge","t":"2009-09-02T08:05","v":63},
{"s":"Syredosering Hauge","t":"2009-09-02T08:12","v":115},
{"s":"Syredosering Hauge","t":"2009-09-02T09:01","v":115},
{"s":"Syredosering Hauge","t":"2009-09-02T11:49","v":109},
{"s":"Syredosering Hauge","t":"2009-09-02T14:57","v":101},
{"s":"Syredosering Hauge","t":"2009-09-02T18:26","v":98},
{"s":"Syredosering Hauge","t":"2009-09-02T20:31","v":89},
{"s":"Syredosering Hauge","t":"2009-09-03T00:00","v":74},
{"s":"Syredosering Hauge","t":"2009-09-03T03:29","v":73},
{"s":"Syredosering Hauge","t":"2009-09-03T08:22","v":83},
{"s":"Syredosering Hauge","t":"2009-09-03T12:53","v":99},
{"s":"Syredosering Hauge","t":"2009-09-03T14:38","v":95},
{"s":"Syredosering Hauge","t":"2009-09-03T15:41","v":88},
{"s":"Syredosering Hauge","t":"2009-09-03T17:04","v":54},
{"s":"Syredosering Hauge","t":"2009-09-03T18:07","v":41},
{"s":"Syredosering Hauge","t":"2009-09-03T20:54","v":38},
{"s":"Syredosering Hauge","t":"2009-09-03T23:20","v":32},
{"s":"Syredosering Hauge","t":"2009-09-04T01:47","v":26},
{"s":"Syredosering Hauge","t":"2009-09-04T07:21","v":26},
{"s":"Syredosering Hauge","t":"2009-09-04T08:45","v":27},
{"s":"Syredosering Hauge","t":"2009-09-04T11:32","v":42},
{"s":"Syredosering Hauge","t":"2009-09-04T13:37","v":54},
{"s":"Syredosering Hauge","t":"2009-09-04T15:01","v":42},
{"s":"Syredosering Hauge","t":"2009-09-04T16:45","v":19},
{"s":"Syredosering Hauge","t":"2009-09-04T19:12","v":7},
{"s":"Syredosering Hauge","t":"2009-09-04T22:41","v":9},
{"s":"Syredosering Hauge","t":"2009-09-05T02:10","v":10},
{"s":"Syredosering Hauge","t":"2009-09-05T05:39","v":22},
{"s":"Syredosering Hauge","t":"2009-09-05T09:08","v":29},
{"s":"Syredosering Hauge","t":"2009-09-05T11:13","v":40},
{"s":"Syredosering Hauge","t":"2009-09-05T12:57","v":69},
{"s":"Syredosering Hauge","t":"2009-09-05T16:06","v":72},
{"s":"Syredosering Hauge","t":"2009-09-05T18:11","v":73},
{"s":"Syredosering Hauge","t":"2009-09-05T21:40","v":66},
{"s":"Syredosering Hauge","t":"2009-09-06T01:09","v":61},
{"s":"Syredosering Hauge","t":"2009-09-06T04:38","v":60},
{"s":"Syredosering Hauge","t":"2009-09-06T08:07","v":57},
{"s":"Syredosering Hauge","t":"2009-09-06T09:10","v":60},
{"s":"Syredosering Hauge","t":"2009-09-06T09:31","v":37},
{"s":"Syredosering Hauge","t":"2009-09-06T09:51","v":22},
{"s":"Syredosering Hauge","t":"2009-09-06T13:41","v":22},
{"s":"Syredosering Hauge","t":"2009-09-06T14:02","v":67},
{"s":"Syredosering Hauge","t":"2009-09-06T14:23","v":-6},
{"s":"Syredosering Hauge","t":"2009-09-06T14:44","v":0},
{"s":"Syredosering Hauge","t":"2009-09-08T06:48","v":0},
{"s":"Syredosering Sykehusbrua","t":"2009-08-23T14:36","v":0},
{"s":"Syredosering Sykehusbrua","t":"2009-08-24T17:04","v":0},
{"s":"Syredosering Sykehusbrua","t":"2009-08-24T17:25","v":25},
{"s":"Syredosering Sykehusbrua","t":"2009-08-24T18:28","v":17.5},
{"s":"Syredosering Sykehusbrua","t":"2009-08-24T20:33","v":17},
{"s":"Syredosering Sykehusbrua","t":"2009-08-24T21:57","v":13},
{"s":"Syredosering Sykehusbrua","t":"2009-08-24T22:59","v":4},
{"s":"Syredosering Sykehusbrua","t":"2009-08-25T00:02","v":-5.5},
{"s":"Syredosering Sykehusbrua","t":"2009-08-26T14:21","v":-5.5},
{"s":"Syredosering Sykehusbrua","t":"2009-08-26T14:42","v":0},
{"s":"Syredosering Sykehusbrua","t":"2009-08-26T17:50","v":34},
{"s":"Syredosering Sykehusbrua","t":"2009-08-26T21:19","v":36.5},
{"s":"Syredosering Sykehusbrua","t":"2009-08-27T00:48","v":36.5},
{"s":"Syredosering Sykehusbrua","t":"2009-08-27T05:41","v":32},
{"s":"Syredosering Sykehusbrua","t":"2009-08-27T09:31","v":28},
{"s":"Syredosering Sykehusbrua","t":"2009-08-27T11:15","v":30},
{"s":"Syredosering Sykehusbrua","t":"2009-08-27T13:00","v":51},
{"s":"Syredosering Sykehusbrua","t":"2009-08-27T14:44","v":89},
{"s":"Syredosering Sykehusbrua","t":"2009-08-27T16:08","v":77},
{"s":"Syredosering Sykehusbrua","t":"2009-08-27T19:37","v":48},
{"s":"Syredosering Sykehusbrua","t":"2009-08-27T23:06","v":25},
{"s":"Syredosering Sykehusbrua","t":"2009-08-28T01:53","v":0},
{"s":"Syredosering Sykehusbrua","t":"2009-08-28T10:35","v":0},
{"s":"Syredosering Sykehusbrua","t":"2009-08-28T17:33","v":13},
{"s":"Syredosering Sykehusbrua","t":"2009-08-28T22:05","v":14.5},
{"s":"Syredosering Sykehusbrua","t":"2009-08-29T07:29","v":15},
{"s":"Syredosering Sykehusbrua","t":"2009-08-29T14:27","v":20},
{"s":"Syredosering Sykehusbrua","t":"2009-08-29T17:56","v":20},
{"s":"Syredosering Sykehusbrua","t":"2009-08-30T01:57","v":13},
{"s":"Syredosering Sykehusbrua","t":"2009-08-30T05:26","v":9},
{"s":"Syredosering Sykehusbrua","t":"2009-08-30T08:55","v":7},
{"s":"Syredosering Sykehusbrua","t":"2009-08-30T12:24","v":10},
{"s":"Syredosering Sykehusbrua","t":"2009-08-30T19:22","v":20},
{"s":"Syredosering Sykehusbrua","t":"2009-08-31T01:17","v":13},
{"s":"Syredosering Sykehusbrua","t":"2009-08-31T08:15","v":3},
{"s":"Syredosering Sykehusbrua","t":"2009-08-31T11:44","v":4.4},
{"s":"Syredosering Sykehusbrua","t":"2009-08-31T14:11","v":25},
{"s":"Syredosering Sykehusbrua","t":"2009-08-31T21:09","v":45},
{"s":"Syredosering Sykehusbrua","t":"2009-09-01T05:09","v":60},
{"s":"Syredosering Sykehusbrua","t":"2009-09-01T13:10","v":74},
{"s":"Syredosering Sykehusbrua","t":"2009-09-01T18:03","v":80},
{"s":"Syredosering Sykehusbrua","t":"2009-09-01T23:37","v":98},
{"s":"Syredosering Sykehusbrua","t":"2009-09-02T07:59","v":98}
]
},
"encoding": {
  "x": {"field": "t", "type": "temporal",
    "scale": {"domain": [{"year": 2009, "month": 8, "date": 23, "hours": 14, "minutes": 36}, {"year": 2009, "month": 9, "date": 8, "hours": 6, "minutes": 48}]},
    "axis": {"title": null, "orient": "bottom", "offset": 11,
      "values": [{"year":2009,"month":8,"date":24},{"year":2009,"month":8,"date":25},{"year":2009,"month":8,"date":26},{"year":2009,"month":8,"date":27},{"year":2009,"month":8,"date":28},{"year":2009,"month":8,"date":29},{"year":2009,"month":8,"date":30},{"year":2009,"month":8,"date":31},{"year":2009,"month":9,"date":1},{"year":2009,"month":9,"date":2},{"year":2009,"month":9,"date":3},{"year":2009,"month":9,"date":4},{"year":2009,"month":9,"date":5},{"year":2009,"month":9,"date":6},{"year":2009,"month":9,"date":7},{"year":2009,"month":9,"date":8}],
      "labelExpr": "round((datum.value - datetime(2009,7,24)) / 86400000) % 5 === 0 ? [timeFormat(datum.value, '%H:%M'), timeFormat(datum.value, '%d.%m.%Y')] : ''",
      "labelOverlap": false, "labelFlush": false, "labelBaseline": "top", "labelPadding": 8, "labelLineHeight": 27,
      "tickSize": 4, "grid": true,
      "gridOpacity": {"condition": {"test": "round((datum.value - datetime(2009,7,24)) / 86400000) % 5 === 0", "value": 1}, "value": 0}}},
  "color": {"field": "s", "type": "nominal",
    "scale": {"domain": ["Dosering syre Båthølen", "Syredosering Bø", "Syredosering Old Boll", "Syredosering Molde", "Syredosering Hauge", "Syredosering Sykehusbrua", "Vannstand Båthølen"],
              "range": ["#FF00FF", "#00F000", "#FFFF00", "#8B0E0E", "#000000", "#00FFFF", "#0000FF"]},
    "legend": {"orient": "none", "legendX": 129, "legendY": 11, "title": null, "padding": 0,
      "fillColor": "#FFFFFF",
      "symbolType": "M-2.33,0H2.33", "symbolSize": 900, "symbolStrokeWidth": 1.5,
      "labelFont": "DejaVu Sans", "labelFontSize": 24, "labelOffset": 29, "labelLimit": 600, "rowPadding": 10,
      "encode": {"labels": {"update": {"fill": {"scale": "color", "field": "value"}}}}}}
},
"layer": [
  {"data": {"name": "level"},
   "mark": {"type": "line", "interpolate": "step-after", "strokeWidth": 1.3},
   "encoding": {"y": {"field": "m", "type": "quantitative",
     "scale": {"domain": [68.70, 68.92], "nice": false, "zero": false},
     "axis": {"orient": "right", "offset": 12, "grid": false, "title": "m", "titleAngle": 0, "titleAlign": "center", "titleBaseline": "alphabetic", "titleX": 5, "titleY": -17,
       "values": [68.7,68.705,68.71,68.715,68.72,68.725,68.73,68.735,68.74,68.745,68.75,68.755,68.76,68.765,68.77,68.775,68.78,68.785,68.79,68.795,68.8,68.805,68.81,68.815,68.82,68.825,68.83,68.835,68.84,68.845,68.85,68.855,68.86,68.865,68.87,68.875,68.88,68.885,68.89,68.895,68.9,68.905,68.91,68.915,68.92],
       "labelExpr": "abs(datum.value * 50 - round(datum.value * 50)) < 0.001 ? replace(format(datum.value, '.2f'), '.', ',') : ''",
       "tickSize": {"condition": {"test": "abs(datum.value * 50 - round(datum.value * 50)) < 0.001", "value": 5}, "value": 3},
       "labelPadding": 3, "labelOverlap": false, "labelFlush": false}}}},
  {"data": {"name": "dose"},
   "mark": {"type": "line", "strokeWidth": 1},
   "encoding": {"y": {"field": "v", "type": "quantitative",
     "scale": {"domain": [-12.7, 480.3], "nice": false, "zero": false},
     "axis": {"orient": "left", "offset": 10, "title": "l/t Lærdal 2009", "titleAngle": 0, "titleAlign": "left", "titleBaseline": "alphabetic", "titleX": -15, "titleY": -17,
       "values": [-10,0,10,20,30,40,50,60,70,80,90,100,110,120,130,140,150,160,170,180,190,200,210,220,230,240,250,260,270,280,290,300,310,320,330,340,350,360,370,380,390,400,410,420,430,440,450,460,470,480],
       "labelExpr": "datum.value % 50 === 0 && datum.value >= 0 ? datum.label : ''",
       "tickSize": {"condition": {"test": "datum.value % 50 === 0", "value": 5}, "value": 3},
       "grid": true,
       "gridOpacity": {"condition": {"test": "datum.value % 50 === 0 && datum.value >= 0", "value": 1}, "value": 0},
       "labelPadding": 5, "labelOverlap": false, "labelFlush": false}}}}
],
"resolve": {"scale": {"y": "independent"}, "axis": {"y": "independent"}}
}
